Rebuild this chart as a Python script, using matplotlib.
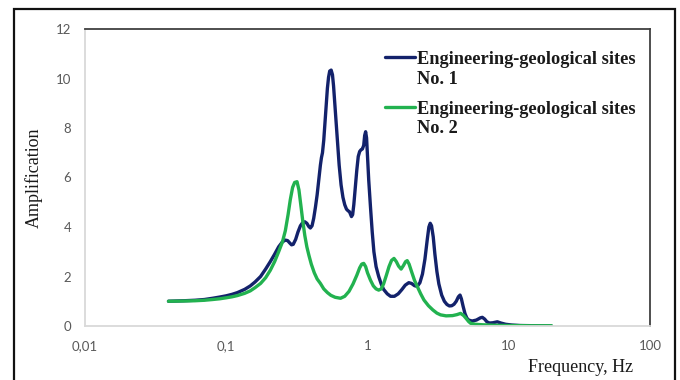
import numpy as np
import matplotlib
matplotlib.use("Agg")
import matplotlib.pyplot as plt
from matplotlib.patches import Rectangle
from matplotlib.legend_handler import HandlerLine2D

# ---- data ----
freq_site1 = [0.039, 0.05, 0.06, 0.07, 0.08, 0.09, 0.10, 0.11, 0.12, 0.135,
              0.148, 0.16, 0.175, 0.19, 0.205, 0.22, 0.235, 0.25, 0.262, 0.272,
              0.282, 0.29, 0.298, 0.31, 0.322, 0.335, 0.348, 0.36, 0.372, 0.384,
              0.394, 0.405, 0.416, 0.428, 0.44, 0.452, 0.464, 0.472, 0.48, 0.49,
              0.50, 0.51, 0.52, 0.53, 0.54, 0.553, 0.565, 0.575, 0.59, 0.61,
              0.63, 0.65, 0.67, 0.69, 0.71, 0.73, 0.745, 0.757, 0.77, 0.785,
              0.80, 0.82, 0.84, 0.86, 0.88, 0.90, 0.92, 0.94, 0.955, 0.97,
              0.985, 1.0, 1.02, 1.05, 1.08, 1.11, 1.15, 1.2, 1.25, 1.3,
              1.38, 1.456, 1.55, 1.65, 1.75, 1.85, 1.96, 2.05, 2.15, 2.25,
              2.35, 2.45, 2.55, 2.65, 2.72, 2.78, 2.84, 2.92, 3.0, 3.1,
              3.2, 3.35, 3.5, 3.65, 3.8, 3.95, 4.1, 4.25, 4.4, 4.52,
              4.62, 4.75, 4.9, 5.05, 5.2, 5.5, 5.9, 6.3, 6.5, 6.75,
              7.0, 7.3, 7.7, 8.3, 8.8, 9.5, 10.5, 12.0, 15.0, 20.0]
amp_site1 = [1.00, 1.02, 1.04, 1.07, 1.12, 1.17, 1.22, 1.28, 1.35, 1.48,
             1.62, 1.78, 2.00, 2.30, 2.60, 2.90, 3.20, 3.40, 3.47, 3.45,
             3.35, 3.28, 3.30, 3.50, 3.80, 4.05, 4.18, 4.21, 4.15, 4.02,
             3.96, 4.05, 4.35, 4.80, 5.30, 5.90, 6.50, 6.80, 7.00, 7.50,
             8.20, 8.90, 9.60, 10.05, 10.30, 10.34, 10.15, 9.70, 8.80, 7.60,
             6.50, 5.70, 5.20, 4.90, 4.72, 4.65, 4.62, 4.52, 4.42, 4.50,
             4.90, 5.60, 6.30, 6.85, 7.05, 7.12, 7.15, 7.30, 7.70, 7.85,
             7.60, 6.90, 5.90, 4.80, 3.80, 3.00, 2.40, 2.00, 1.70, 1.48,
             1.30, 1.20, 1.20, 1.30, 1.47, 1.65, 1.75, 1.72, 1.63, 1.60,
             1.75, 2.10, 2.70, 3.50, 4.00, 4.15, 4.05, 3.60, 2.90, 2.20,
             1.70, 1.25, 1.00, 0.87, 0.81, 0.82, 0.88, 1.00, 1.18, 1.25,
             1.10, 0.80, 0.50, 0.32, 0.24, 0.20, 0.24, 0.33, 0.35, 0.28,
             0.17, 0.12, 0.13, 0.17, 0.12, 0.07, 0.04, 0.02, 0.01, 0.00]

freq_site2 = [0.039, 0.05, 0.06, 0.07, 0.08, 0.09, 0.10, 0.11, 0.12, 0.135,
              0.148, 0.16, 0.175, 0.19, 0.205, 0.22, 0.235, 0.25, 0.262, 0.274,
              0.284, 0.295, 0.305, 0.317, 0.327, 0.337, 0.348, 0.36, 0.372, 0.385,
              0.40, 0.42, 0.44, 0.464, 0.49, 0.52, 0.55, 0.59, 0.644, 0.69,
              0.74, 0.79, 0.84, 0.88, 0.91, 0.94, 0.97, 1.0, 1.05, 1.1,
              1.15, 1.2, 1.25, 1.3, 1.36, 1.42, 1.48, 1.54, 1.6, 1.66,
              1.73, 1.8, 1.86, 1.91, 1.97, 2.05, 2.15, 2.25, 2.38, 2.51,
              2.7, 2.9, 3.1, 3.29, 3.6, 4.0, 4.3, 4.56, 4.8, 5.0,
              5.2, 5.37, 5.8, 6.5, 8.0, 10.0, 14.0, 20.1]
amp_site2 = [1.00, 1.01, 1.02, 1.04, 1.07, 1.10, 1.14, 1.18, 1.23, 1.32,
             1.42, 1.55, 1.72, 1.95, 2.25, 2.60, 3.00, 3.40, 3.85, 4.50,
             5.10, 5.60, 5.80, 5.83, 5.50, 4.90, 4.25, 3.65, 3.20, 2.85,
             2.50, 2.15, 1.90, 1.72, 1.50, 1.35, 1.24, 1.16, 1.12, 1.20,
             1.40, 1.70, 2.05, 2.35, 2.50, 2.53, 2.40, 2.15, 1.85, 1.62,
             1.50, 1.45, 1.50, 1.70, 2.05, 2.40, 2.65, 2.73, 2.60, 2.42,
             2.30, 2.45, 2.60, 2.64, 2.50, 2.20, 1.85, 1.60, 1.30, 1.05,
             0.82, 0.65, 0.52, 0.45, 0.41, 0.42, 0.46, 0.51, 0.42, 0.30,
             0.18, 0.11, 0.07, 0.05, 0.03, 0.02, 0.01, 0.01]

label_site1 = "Engineering-geological sites\nNo. 1"
label_site2 = "Engineering-geological sites\nNo. 2"

x_tick_values = [0.01, 0.1, 1, 10, 100]
x_tick_labels = ["0,01", "0,1", "1", "10", "100"]
y_tick_values = [0, 2, 4, 6, 8, 10, 12]

# ---- styling ----
navy = "#13226b"
green = "#22b24f"
tick_color = "#595959"
serif = ["Liberation Serif", "DejaVu Serif"]

fig = plt.figure(figsize=(6.8, 3.8), dpi=100)
fig.patch.set_facecolor("white")
ax = fig.add_axes([85 / 680, 1 - 326 / 380, 565 / 680, 297 / 380])

ax.plot(freq_site1, amp_site1, color=navy, lw=2.4, label=label_site1,
        solid_joinstyle="round", solid_capstyle="round")
ax.plot(freq_site2, amp_site2, color=green, lw=2.4, label=label_site2,
        solid_joinstyle="round", solid_capstyle="round")

ax.set_xscale("log")
ax.set_xlim(0.01, 100)
ax.set_ylim(0, 12)
ax.xaxis.set_major_locator(matplotlib.ticker.FixedLocator(x_tick_values))
ax.xaxis.set_minor_locator(matplotlib.ticker.NullLocator())
ax.set_xticklabels(x_tick_labels)
ax.set_yticks(y_tick_values)
ax.tick_params(axis="both", which="both", length=0, colors=tick_color,
               labelsize=9.5)
ax.tick_params(axis="x", pad=10)
ax.tick_params(axis="y", pad=10)
for lab in ax.get_xticklabels() + ax.get_yticklabels():
    lab.set_fontfamily("Lato")

for side in ("left", "bottom"):
    ax.spines[side].set_color("#d9d9d9")
    ax.spines[side].set_linewidth(1.3)
for side in ("top", "right"):
    ax.spines[side].set_color("#404040")
    ax.spines[side].set_linewidth(1.3)

ax.set_ylabel("Amplification", family=serif, fontsize=13, color="#1a1a1a")
ax.yaxis.set_label_coords(-42 / 565, 0.5)
fig.text(633 / 680, 1 - 368 / 380, "Frequency, Hz", family=serif,
         fontsize=13, color="#1a1a1a", ha="right", va="center")


class TopHandler(HandlerLine2D):
    def create_artists(self, legend, orig_handle, xdescent, ydescent, width,
                       height, fontsize, trans):
        arts = super().create_artists(legend, orig_handle, xdescent, ydescent,
                                      width, height, fontsize, trans)
        for a in arts:
            a.set_ydata(np.asarray(a.get_ydata(), dtype=float) + 0.68 * fontsize)
        return arts


leg = ax.legend(loc="upper left", bbox_to_anchor=((385 - 85) / 565, (326 - 51) / 297),
                frameon=False, borderpad=0, borderaxespad=0,
                handlelength=1.65, handletextpad=0.12, labelspacing=0.72,
                prop={"family": serif, "weight": "bold", "size": 13.2},
                handler_map={matplotlib.lines.Line2D: TopHandler()})
for t in leg.get_texts():
    t.set_color("#1a1a1a")
    t.set_linespacing(1.2)

fig.add_artist(Rectangle((14 / 680, -0.05), (675 - 14) / 680, 1 - 9 / 380 + 0.05,
                         transform=fig.transFigure, fill=False,
                         edgecolor="#111111", linewidth=1.6))

fig.savefig("out.png", dpi=100, facecolor="white")
